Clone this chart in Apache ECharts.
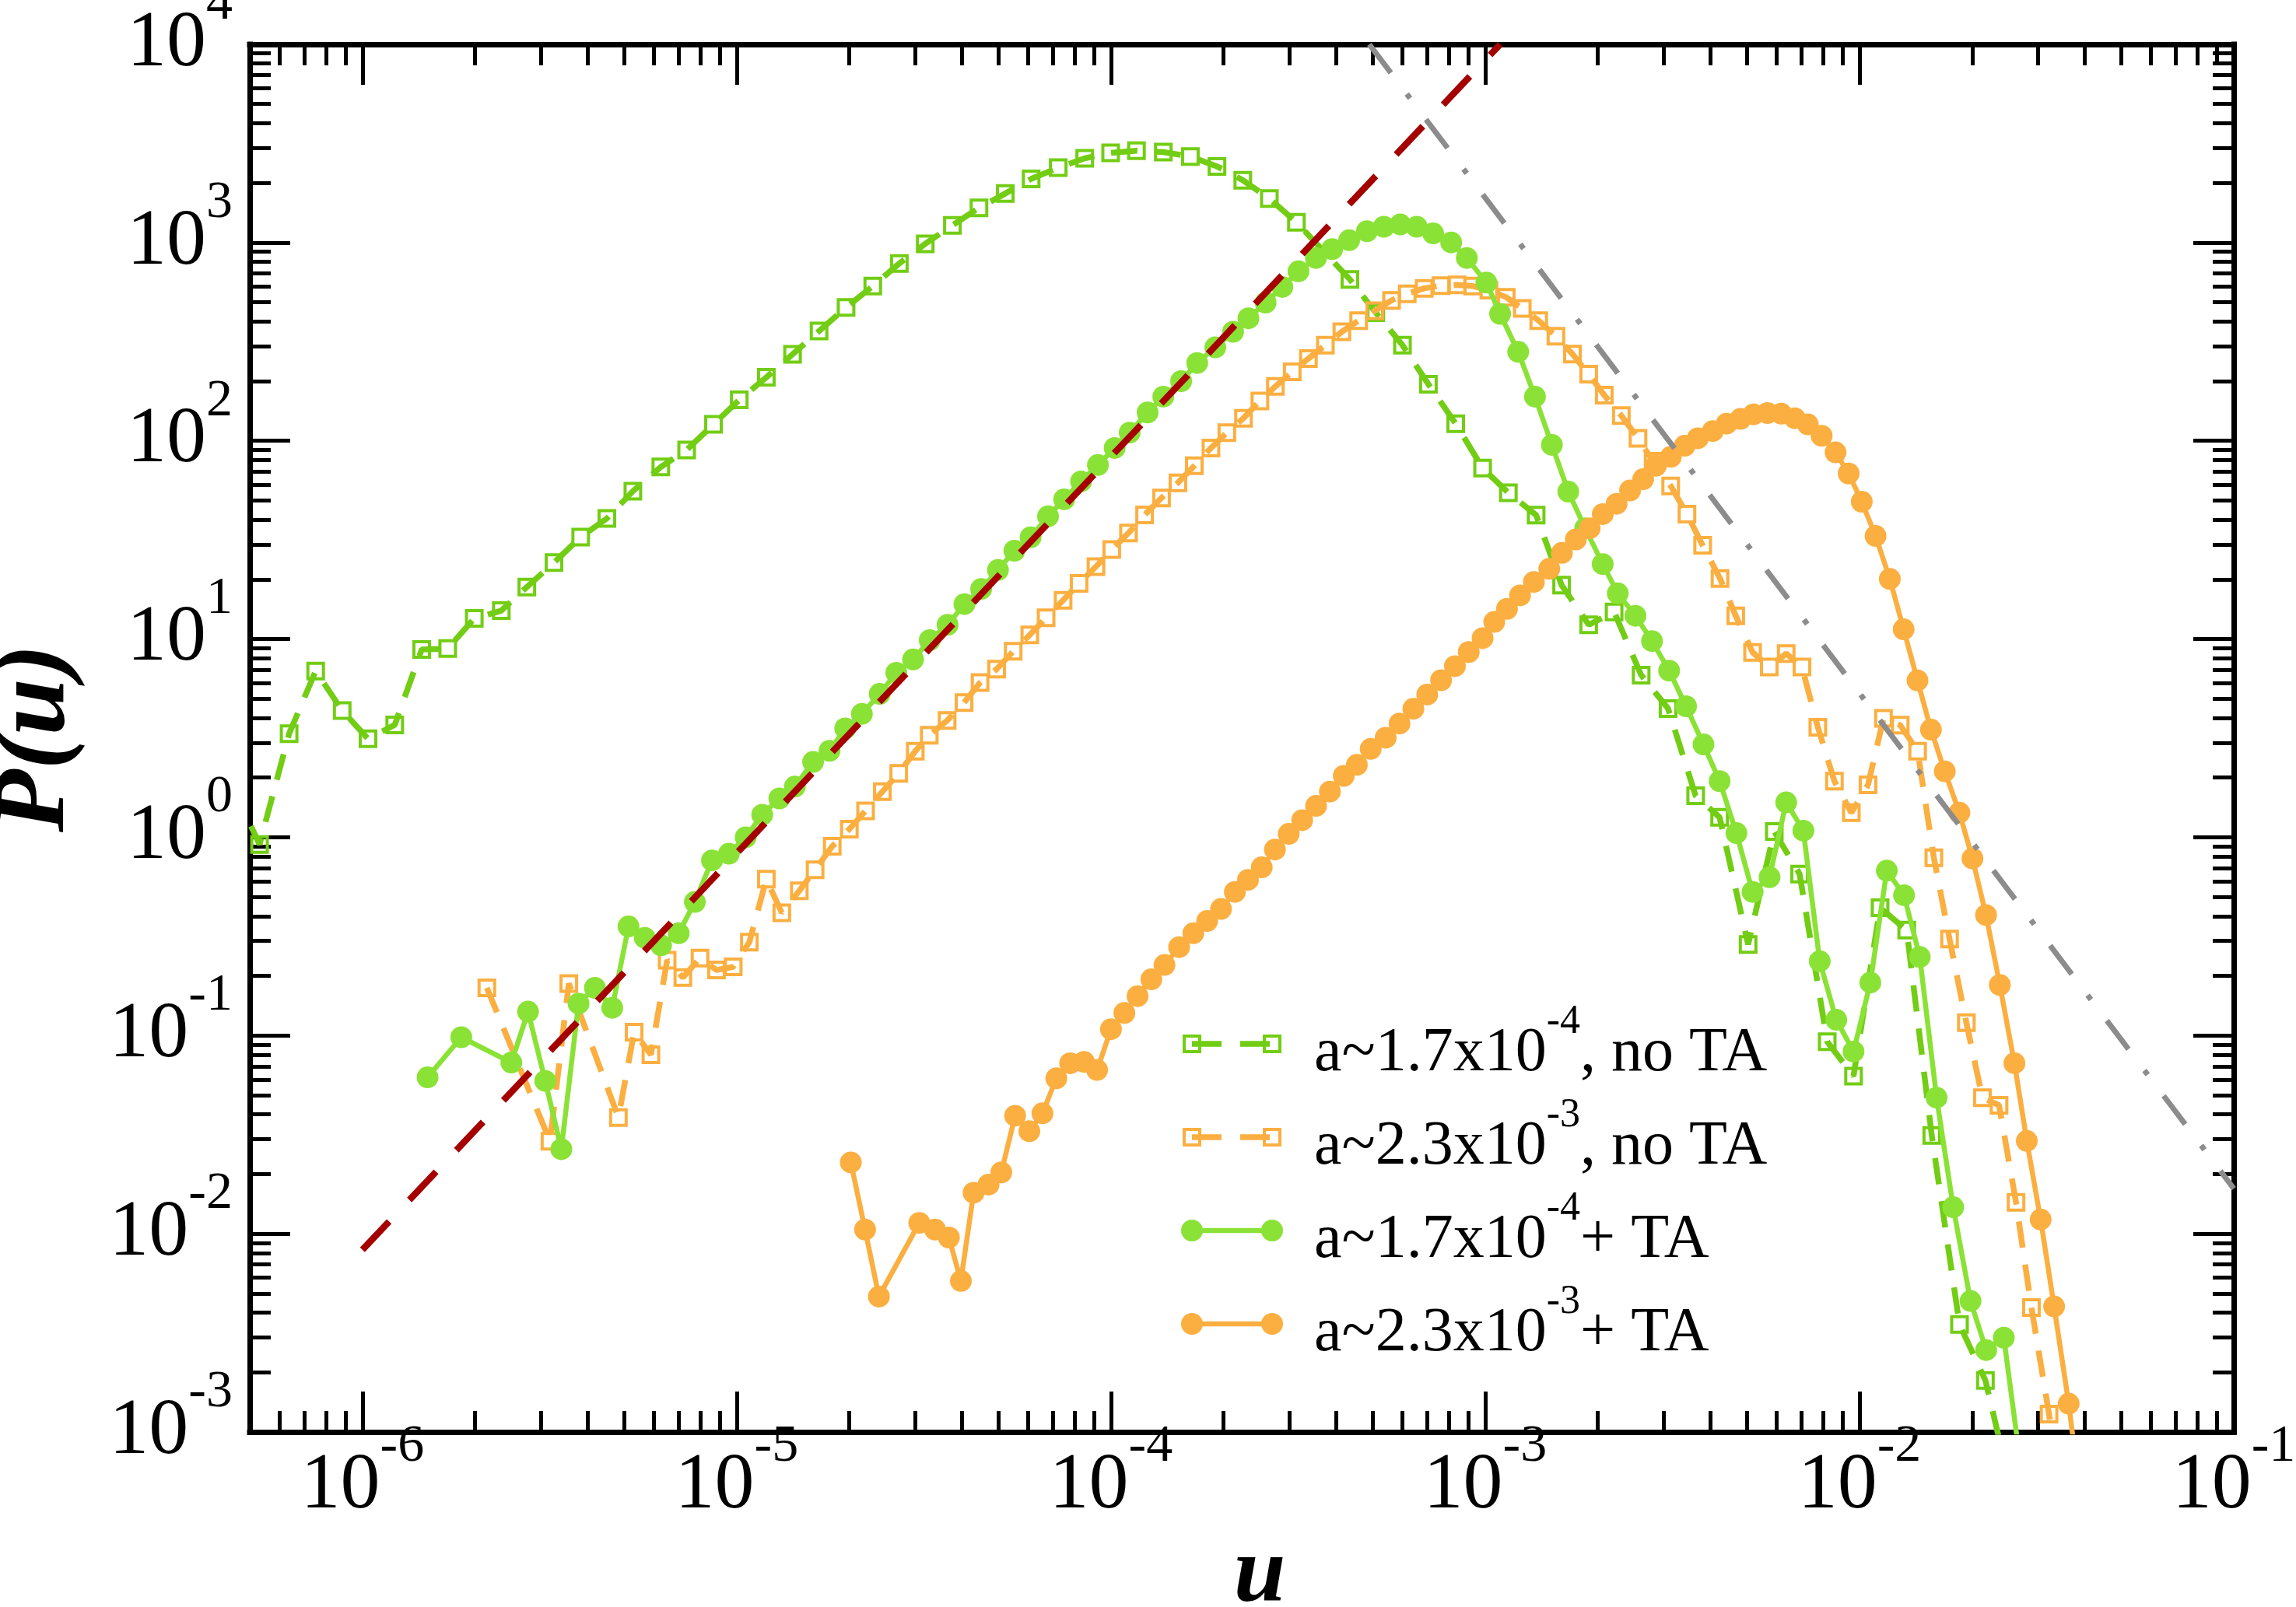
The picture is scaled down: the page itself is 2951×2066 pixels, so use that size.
<!DOCTYPE html>
<html>
<head>
<meta charset="utf-8">
<script src="https://cdn.jsdelivr.net/npm/echarts@6/dist/echarts.min.js"></script>
<style>html,body{margin:0;padding:0;background:#fff;}#main{width:2951px;height:2066px;}</style>
</head>
<body>
<div id="main"></div>
<script>
// ---------- axis ranges and ticks ----------
const xRange = [5e-7, 1e-1];
const yRange = [1e-3, 1e4];
const xMajorTicks = [1e-6, 1e-5, 1e-4, 1e-3, 1e-2, 1e-1];
const yMajorTicks = [1e-3, 1e-2, 1e-1, 1, 10, 100, 1000, 1e4];
const minorMultipliers = [2, 3, 4, 5, 6, 7, 8, 9];

// ---------- series names / legend ----------
const legendParts = [
  ['a~1.7x10', '-4', ', no TA'],
  ['a~2.3x10', '-3', ', no TA'],
  ['a~1.7x10', '-4', '+ TA'],
  ['a~2.3x10', '-3', '+ TA']
];

// ---------- data: green, no TA (open squares, dashed) ----------
const greenNoTA_u = [4.5e-7, 5.31e-7, 6.37e-7, 7.50e-7, 8.83e-7, 1.035e-6, 1.22e-6, 1.44e-6, 1.69e-6, 1.99e-6, 2.35e-6,
  2.75e-6, 3.25e-6, 3.83e-6, 4.50e-6, 5.28e-6, 6.27e-6, 7.35e-6, 8.67e-6, 1.016e-5, 1.20e-5,
  1.41e-5, 1.66e-5, 1.96e-5, 2.31e-5, 2.72e-5, 3.19e-5, 3.77e-5, 4.44e-5, 5.22e-5, 6.12e-5,
  7.23e-5, 8.51e-5, 9.98e-5, 1.17e-4, 1.38e-4, 1.63e-4, 1.92e-4, 2.25e-4, 2.65e-4, 3.13e-4,
  4.35e-4, 5.10e-4, 6.01e-4, 7.05e-4, 8.34e-4, 9.84e-4, 1.153e-3, 1.368e-3, 1.60e-3, 1.89e-3,
  2.21e-3, 2.61e-3, 3.08e-3, 3.65e-3, 4.23e-3, 5.04e-3, 5.92e-3, 6.92e-3, 8.20e-3, 9.64e-3,
  1.135e-2, 1.337e-2, 1.56e-2, 1.85e-2, 2.17e-2, 2.55e-2];
const greenNoTA_p = [1.8, 0.92, 3.33, 6.9, 4.36, 3.14, 3.69, 8.85, 8.95, 12.7, 13.9,
  18.3, 24.3, 32.7, 40.6, 55.7, 73.8, 89.9, 121, 161, 209,
  273, 358, 471, 603, 785, 986, 1221, 1496, 1767, 2096,
  2386, 2662, 2834, 2906, 2862, 2717, 2423, 2064, 1668, 1267,
  652, 443, 304, 193, 122, 72.8, 54.7, 42.2, 18.7, 11.8,
  13.7, 6.58, 4.46, 1.62, 1.26, 0.288, 1.07, 0.652, 0.093, 0.0624,
  0.441, 0.340, 0.0313, 0.00349, 0.00182, 0.0005];

// ---------- data: orange, no TA (open squares, dashed) ----------
const orangeNoTA_u = [2.15e-6, 3.17e-6, 3.56e-6, 4.83e-6, 5.32e-6, 5.90e-6, 6.52e-6, 7.18e-6, 7.98e-6, 8.83e-6,
  9.79e-6, 1.081e-5, 1.20e-5, 1.32e-5, 1.47e-5, 1.62e-5, 1.80e-5, 2.00e-5, 2.21e-5, 2.45e-5,
  2.71e-5, 3.00e-5, 3.27e-5, 3.65e-5, 4.05e-5, 4.47e-5, 4.95e-5, 5.48e-5, 6.07e-5, 6.71e-5,
  7.45e-5, 8.22e-5, 9.12e-5, 1.005e-4, 1.114e-4, 1.23e-4, 1.365e-4, 1.51e-4, 1.67e-4, 1.85e-4,
  2.04e-4, 2.26e-4, 2.50e-4, 2.75e-4, 3.05e-4, 3.37e-4, 3.74e-4, 4.14e-4, 4.59e-4, 5.07e-4,
  5.62e-4, 6.19e-4, 6.87e-4, 7.62e-4, 8.41e-4, 9.27e-4, 1.023e-3, 1.138e-3, 1.256e-3, 1.39e-3,
  1.545e-3, 1.71e-3, 1.89e-3, 2.08e-3, 2.31e-3, 2.56e-3, 2.81e-3, 3.13e-3, 3.46e-3, 3.81e-3,
  4.24e-3, 4.67e-3, 5.18e-3, 5.74e-3, 6.37e-3, 7.02e-3, 7.74e-3, 8.57e-3, 9.51e-3, 1.054e-2,
  1.159e-2, 1.285e-2, 1.43e-2, 1.58e-2, 1.74e-2, 1.93e-2, 2.13e-2, 2.36e-2, 2.62e-2, 2.88e-2,
  3.21e-2, 3.55e-2];
const orangeNoTA_p = [0.174, 0.0293, 0.183, 0.0386, 0.104, 0.080, 0.24, 0.196, 0.246, 0.214,
  0.222, 0.296, 0.615, 0.416, 0.537, 0.686, 0.90, 1.10, 1.36, 1.70,
  2.10, 2.72, 3.27, 3.88, 4.78, 6.03, 7.05, 8.67, 10.5, 12.8,
  15.7, 19.1, 23.2, 28.3, 34.3, 42.3, 51.5, 61.4, 74.8, 92,
  110, 130, 159, 188, 223, 260, 304, 355, 404, 453,
  511, 552, 588, 606, 612, 603, 575, 530, 465, 404,
  337, 274, 217, 170, 134, 103, 78.8, 59.2, 42.7, 29.7,
  20.2, 13.1, 8.57, 7.22, 8.45, 7.22, 3.59, 1.92, 1.33, 1.84,
  3.98, 3.68, 2.72, 0.789, 0.307, 0.116, 0.0486, 0.0445, 0.0144, 0.00424,
  0.00123, 0.0003];

// ---------- data: green + TA (filled circles, solid) ----------
const greenTA_u = [1.493e-6, 1.837e-6, 2.50e-6, 2.77e-6, 3.08e-6, 3.40e-6, 3.78e-6, 4.18e-6, 4.65e-6, 5.14e-6,
  5.68e-6, 6.28e-6, 7.00e-6, 7.73e-6, 8.59e-6, 9.53e-6, 1.057e-5, 1.17e-5, 1.30e-5, 1.43e-5,
  1.60e-5, 1.77e-5, 1.95e-5, 2.16e-5, 2.41e-5, 2.67e-5, 2.96e-5, 3.28e-5, 3.66e-5, 4.06e-5,
  4.50e-5, 4.99e-5, 5.52e-5, 6.10e-5, 6.79e-5, 7.50e-5, 8.32e-5, 9.23e-5, 1.023e-4, 1.122e-4,
  1.253e-4, 1.38e-4, 1.54e-4, 1.70e-4, 1.90e-4, 2.12e-4, 2.33e-4, 2.59e-4, 2.87e-4, 3.17e-4,
  3.53e-4, 3.90e-4, 4.33e-4, 4.83e-4, 5.36e-4, 5.93e-4, 6.56e-4, 7.26e-4, 8.11e-4, 8.93e-4,
  1.007e-3, 1.096e-3, 1.225e-3, 1.358e-3, 1.507e-3, 1.667e-3, 1.85e-3, 2.06e-3, 2.26e-3, 2.52e-3,
  2.79e-3, 3.10e-3, 3.44e-3, 3.83e-3, 4.23e-3, 4.69e-3, 5.18e-3, 5.75e-3, 6.37e-3, 7.08e-3,
  7.83e-3, 8.67e-3, 9.64e-3, 1.069e-2, 1.183e-2, 1.315e-2, 1.449e-2, 1.607e-2, 1.78e-2, 1.98e-2,
  2.18e-2, 2.43e-2, 2.69e-2];
const greenTA_p = [0.0615, 0.098, 0.073, 0.132, 0.059, 0.0267, 0.145, 0.174, 0.138, 0.355,
  0.311, 0.285, 0.328, 0.472, 0.764, 0.826, 1.0, 1.30, 1.57, 1.80,
  2.40, 2.73, 3.54, 4.19, 5.29, 6.76, 7.89, 9.87, 11.8, 15.0,
  17.9, 22.3, 27.9, 32.6, 41.6, 50.7, 62.4, 75.5, 92, 110,
  139, 167, 200, 247, 296, 355, 415, 498, 597, 716,
  836, 927, 1028, 1141, 1202, 1234, 1202, 1112, 1002, 836,
  628, 437, 281, 167, 95.4, 55.4, 36.2, 23.9, 17.0, 13.1,
  9.77, 6.93, 4.58, 2.94, 1.92, 1.05, 0.530, 0.629, 1.50, 1.08,
  0.237, 0.120, 0.083, 0.185, 0.679, 0.510, 0.249, 0.0486, 0.0136, 0.00458,
  0.00259, 0.00299, 0.0007];

// ---------- data: orange + TA (filled circles, solid) ----------
const orangeTA_u = [2.018e-5, 2.203e-5, 2.399e-5, 3.076e-5, 3.388e-5, 3.690e-5, 3.972e-5, 4.295e-5, 4.710e-5, 5.093e-5,
  5.546e-5, 6.053e-5, 6.561e-5, 7.145e-5, 7.780e-5, 8.472e-5, 9.183e-5, 1.0e-4, 1.086e-4, 1.178e-4,
  1.282e-4, 1.390e-4, 1.521e-4, 1.660e-4, 1.807e-4, 1.968e-4, 2.143e-4, 2.323e-4, 2.529e-4, 2.742e-4,
  2.985e-4, 3.243e-4, 3.532e-4, 3.846e-4, 4.188e-4, 4.539e-4, 4.943e-4, 5.420e-4, 5.902e-4, 6.427e-4,
  6.998e-4, 7.621e-4, 8.299e-4, 9.036e-4, 9.840e-4, 1.057e-3, 1.143e-3, 1.239e-3, 1.349e-3, 1.483e-3,
  1.603e-3, 1.746e-3, 1.901e-3, 2.061e-3, 2.244e-3, 2.438e-3, 2.642e-3, 2.858e-3, 3.133e-3, 3.412e-3,
  3.698e-3, 4.055e-3, 4.416e-3, 4.808e-3, 5.212e-3, 5.675e-3, 6.180e-3, 6.714e-3, 7.278e-3, 7.925e-3,
  8.630e-3, 9.354e-3, 1.014e-2, 1.104e-2, 1.205e-2, 1.312e-2, 1.429e-2, 1.552e-2, 1.690e-2, 1.849e-2,
  2.004e-2, 2.178e-2, 2.371e-2, 2.594e-2, 2.799e-2, 3.048e-2, 3.311e-2, 3.622e-2, 3.936e-2];
const orangeTA_p = [0.0229, 0.0105, 0.00482, 0.01135, 0.0105, 0.00957, 0.00578, 0.0161, 0.0177, 0.0204,
  0.0394, 0.0329, 0.0405, 0.0608, 0.0725, 0.0736, 0.0670, 0.1076, 0.130, 0.158,
  0.192, 0.227, 0.279, 0.328, 0.378, 0.435, 0.530, 0.610, 0.705, 0.867,
  1.04, 1.22, 1.44, 1.70, 2.04, 2.32, 2.79, 3.18, 3.75, 4.45,
  5.25, 6.2, 7.3, 8.6, 10.1, 12.2, 14.2, 16.6, 19.4, 22.6,
  27.2, 31.8, 36.2, 42.7, 48.1, 56.2, 64.0, 74.8, 83.0, 94.4,
  103, 112, 122, 129, 136, 138, 137, 130, 121, 106,
  87.4, 68.4, 49.3, 33.1, 20.1, 11.2, 6.18, 3.49, 2.15, 1.33,
  0.782, 0.405, 0.180, 0.0725, 0.0294, 0.0118, 0.0043, 0.00139, 0.0004];

// ---------- guide lines ----------
const guideRed_u = [1e-6, 1.096e-3];      // ~ u^2
const guideRed_p = [8.3e-3, 1e4];
const guideGray_u = [4.9e-4, 1e-1];       // ~ u^-2.5
const guideGray_p = [1e4, 0.0169];

// ---------- styling ----------
const GREEN_D = '#72CD14';
const GREEN_L = '#8BE236';
const ORANGE = '#FBAF41';
const RED = '#A50000';
const GRAY = '#8C8C8C';
const SERIF = "'Liberation Serif', 'Times New Roman', serif";

const pairs = (u, p) => u.map((x, i) => [x, p[i]]);

const lx0 = Math.log10(xRange[0]), lx1 = Math.log10(xRange[1]);
const ly0 = Math.log10(yRange[0]), ly1 = Math.log10(yRange[1]);
const xMajorExp = xMajorTicks.map(v => Math.round(Math.log10(v)));
const yMajorExp = yMajorTicks.map(v => Math.round(Math.log10(v)));
function minorList(lo, hi) {
  const out = [];
  for (let d = Math.floor(lo) - 1; d <= Math.ceil(hi); d++) {
    minorMultipliers.forEach(k => {
      const v = d + Math.log10(k);
      if (v > lo + 1e-6 && v < hi - 1e-6) out.push(v);
    });
  }
  return out;
}
const xMinorExp = minorList(lx0, lx1);
const yMinorExp = minorList(ly0, ly1);

const tickRich = {
  b: { fontFamily: SERIF, fontSize: 102, lineHeight: 102, color: '#000', verticalAlign: 'bottom' },
  s: { fontFamily: SERIF, fontSize: 68, lineHeight: 68, color: '#000', verticalAlign: 'bottom', padding: [0, 0, 68, 0] }
};
const powFmt = v => '{b|10}{s|' + Math.round(v) + '}';

function decoAxis(position, lo, hi, vals, len, showLine, labelOpt, extra) {
  const a = {
    type: 'value', position: position, min: lo, max: hi, gridIndex: 0,
    axisLine: { show: showLine, onZero: false, lineStyle: { color: '#000', width: 7, cap: 'square' } },
    axisTick: { show: true, inside: true, length: len, customValues: vals, lineStyle: { color: '#000', width: 5 } },
    axisLabel: labelOpt || { show: false },
    splitLine: { show: false }, minorTick: { show: false }, minorSplitLine: { show: false },
    axisPointer: { show: false }, silent: true
  };
  return Object.assign(a, extra || {});
}

const xAxes = [
  { type: 'log', logBase: 10, min: xRange[0], max: xRange[1], show: false, gridIndex: 0 },
  decoAxis('bottom', lx0, lx1, xMajorExp, 52, true,
    { show: true, customValues: xMajorExp, formatter: powFmt, rich: tickRich, margin: 19 },
    { name: 'u', nameLocation: 'middle', nameGap: 112,
      nameTextStyle: { fontFamily: SERIF, fontSize: 120, lineHeight: 120, fontStyle: 'italic', fontWeight: 'bold', color: '#000', padding: [0, 0, 0, 46] } }),
  decoAxis('bottom', lx0, lx1, xMinorExp, 27, false),
  decoAxis('top', lx0, lx1, xMajorExp, 52, true),
  decoAxis('top', lx0, lx1, xMinorExp, 27, false)
];
const yAxes = [
  { type: 'log', logBase: 10, min: yRange[0], max: yRange[1], show: false, gridIndex: 0 },
  decoAxis('left', ly0, ly1, yMajorExp, 52, true,
    { show: true, customValues: yMajorExp, formatter: powFmt, rich: tickRich, margin: 22 },
    { name: 'P(u)', nameLocation: 'middle', nameGap: 208,
      nameTextStyle: { fontFamily: SERIF, fontSize: 132, lineHeight: 132, fontStyle: 'italic', fontWeight: 'bold', color: '#000' } }),
  decoAxis('left', ly0, ly1, yMinorExp, 27, false),
  decoAxis('right', ly0, ly1, yMajorExp, 52, true),
  decoAxis('right', ly0, ly1, yMinorExp, 27, false)
];

function dataSeries(name, u, p, color, open, dashed, z) {
  return {
    name: name, type: 'line', xAxisIndex: 0, yAxisIndex: 0, z: z,
    data: pairs(u, p), clip: true, animation: false, silent: true,
    symbol: open ? 'rect' : 'circle', symbolSize: open ? 20 : 28,
    itemStyle: open ? { color: 'rgba(0,0,0,0)', borderColor: color, borderWidth: 4 } : { color: color, borderWidth: 0 },
    lineStyle: { color: color, width: dashed ? 7.5 : 6.5, type: dashed ? [34, 22] : 'solid' },
    emphasis: { disabled: true }
  };
}

const series = [
  dataSeries('green no TA', greenNoTA_u, greenNoTA_p, GREEN_D, true, true, 2),
  dataSeries('orange no TA', orangeNoTA_u, orangeNoTA_p, ORANGE, true, true, 3),
  dataSeries('green + TA', greenTA_u, greenTA_p, GREEN_L, false, false, 4),
  dataSeries('orange + TA', orangeTA_u, orangeTA_p, ORANGE, false, false, 5),
  { name: 'u^2', type: 'line', xAxisIndex: 0, yAxisIndex: 0, z: 6, data: pairs(guideRed_u, guideRed_p),
    symbol: 'none', clip: true, silent: true, lineStyle: { color: RED, width: 8.5, type: [50, 38] } },
  { name: 'u^-2.5', type: 'line', xAxisIndex: 0, yAxisIndex: 0, z: 7, data: pairs(guideGray_u, guideGray_p),
    symbol: 'none', clip: true, silent: true, lineStyle: { color: GRAY, width: 7, type: [46, 34, 7, 34] } }
];

// ---------- legend drawn as graphic ----------
const legendColors = [GREEN_D, ORANGE, GREEN_L, ORANGE];
const legendOpen = [true, true, false, false];
const legendRowY = [1342, 1462, 1582, 1702];
const legX1 = 1532, legX2 = 1635, legTextX = 1689;
const legRich = {
  b: { fontFamily: SERIF, fontSize: 80, lineHeight: 80, fill: '#000', verticalAlign: 'bottom' },
  s: { fontFamily: SERIF, fontSize: 52, lineHeight: 52, fill: '#000', verticalAlign: 'bottom', padding: [0, 0, 55, 0] }
};
const graphic = [];
legendParts.forEach((parts, i) => {
  const cy = legendRowY[i], c = legendColors[i], open = legendOpen[i];
  graphic.push({ type: 'line', z: 100, silent: true, shape: { x1: legX1, y1: cy, x2: legX2, y2: cy },
    style: { stroke: c, lineWidth: open ? 7.5 : 6.5, lineDash: open ? [38, 24] : null } });
  [legX1, legX2].forEach(cx => {
    if (open) {
      graphic.push({ type: 'rect', z: 101, silent: true, shape: { x: cx - 10, y: cy - 10, width: 20, height: 20 },
        style: { fill: 'rgba(0,0,0,0)', stroke: c, lineWidth: 4 } });
    } else {
      graphic.push({ type: 'circle', z: 101, silent: true, shape: { cx: cx, cy: cy, r: 14 }, style: { fill: c } });
    }
  });
  graphic.push({ type: 'text', z: 102, silent: true, x: legTextX, y: cy + 53,
    style: { text: '{b|' + parts[0] + '}{s|' + parts[1] + '}{b|' + parts[2] + '}', rich: legRich,
      verticalAlign: 'bottom', align: 'left', fill: '#000', fontFamily: SERIF, fontSize: 80 } });
});

const chart = echarts.init(document.getElementById('main'), null, { renderer: 'canvas' });
chart.setOption({
  backgroundColor: '#ffffff',
  animation: false,
  textStyle: { fontFamily: SERIF },
  grid: { left: 321, right: 80, top: 57, bottom: 225, containLabel: false, outerBoundsMode: 'none' },
  xAxis: xAxes,
  yAxis: yAxes,
  series: series,
  graphic: graphic
});
</script>
</body>
</html>
